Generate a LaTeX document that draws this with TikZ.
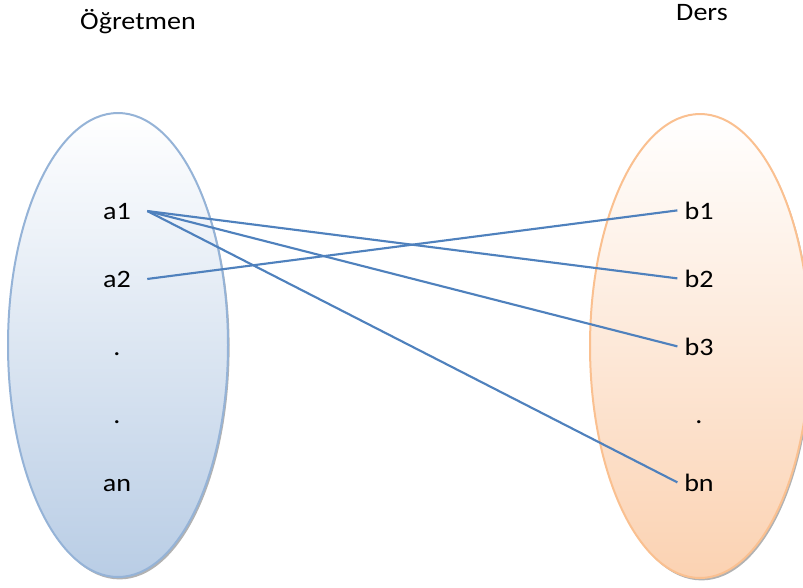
\documentclass[tikz,border=0pt]{standalone}
\usepackage{fontspec}
\setmainfont{Carlito}[FakeStretch=1.12]
\usetikzlibrary{shapes.geometric,shadows}
\definecolor{linkblue}{HTML}{4F81BD}
\definecolor{leftedge}{HTML}{95B3D7}
\definecolor{leftfill}{HTML}{B9CDE5}
\definecolor{rightedge}{HTML}{FAC090}
\definecolor{rightfill}{HTML}{FBD2B2}
\begin{document}
\begin{tikzpicture}[x=0.75pt,y=-0.75pt,font=\fontsize{18.8}{22}\selectfont,
 set/.style={ellipse,line width=1.5pt,minimum width=165pt,minimum height=348pt,
  drop shadow={shadow xshift=1.2pt,shadow yshift=-1.8pt,fill=black,opacity=0.3}},
 el/.style={anchor=base,inner sep=0pt,minimum width=45pt},
 er/.style={anchor=base,inner sep=0pt,minimum width=32pt},
 link/.style={draw=linkblue,line width=1.6pt}]
\useasboundingbox (0,0) rectangle (803,587);
\node[set,draw=leftedge,top color=white,bottom color=leftfill](A) at (118,345){};
\node[set,draw=rightedge,top color=white,bottom color=rightfill](B) at (700,346){};
\node[anchor=base](ta) at (138,29){Öğretmen};
\node[anchor=base](tb) at (702,20){Ders};
\node[el](a1) at (117,219){a1};
\node[el](a2) at (117,287){a2};
\node[el](ad1) at (117,355){.};
\node[el](ad2) at (117,423){.};
\node[el](an) at (117,491){an};
\node[er](b1) at (699,219){b1};
\node[er](b2) at (699,287){b2};
\node[er](b3) at (699,355){b3};
\node[er](bd) at (699,423){.};
\node[er](bn) at (699,491){bn};
\draw[link](a1.east)--(b2.west);\draw[link](a1.east)--(b3.west);
\draw[link](a1.east)--(bn.west);\draw[link](a2.east)--(b1.west);
\end{tikzpicture}
\end{document}
